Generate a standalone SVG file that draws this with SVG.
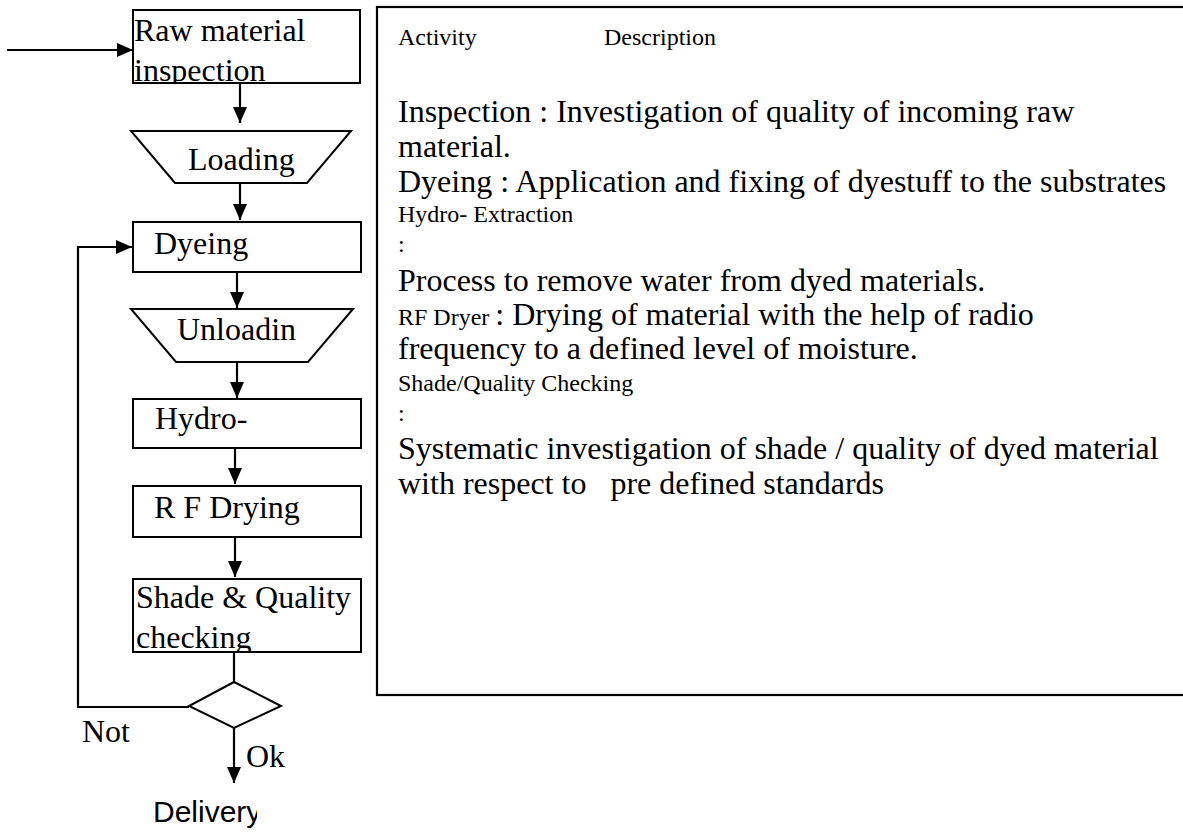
<svg xmlns="http://www.w3.org/2000/svg" width="1183" height="832" viewBox="0 0 1183 832">
<style>
.box{fill:#fff;stroke:#000;stroke-width:2}
.ln{fill:none;stroke:#000;stroke-width:2.2}
.t{font-family:"Liberation Serif","Times New Roman",serif;font-size:32px;fill:#000}
.s{font-family:"Liberation Serif","Times New Roman",serif;font-size:24px;fill:#000}
.sans{font-family:"Liberation Sans",Arial,sans-serif;font-size:30px;fill:#000}
</style>
<defs>
<marker id="ah" markerUnits="userSpaceOnUse" markerWidth="16" markerHeight="14" refX="16" refY="7" orient="auto">
<path d="M0,0 L16,7 L0,14 z" fill="#000"/>
</marker>
<clipPath id="cRaw"><rect x="133" y="10" width="228" height="73"/></clipPath>
<clipPath id="cShade"><rect x="133" y="579" width="228" height="73"/></clipPath>
<clipPath id="cDel"><rect x="140" y="790" width="117" height="42"/></clipPath>
</defs>
<rect width="1183" height="832" fill="#fff"/>

<g id="connectors">
<path class="ln" d="M7,50 H133" marker-end="url(#ah)"/>
<path class="ln" d="M240,84 V123" marker-end="url(#ah)"/>
<path class="ln" d="M240,183 V220" marker-end="url(#ah)"/>
<path class="ln" d="M237,272 V308" marker-end="url(#ah)"/>
<path class="ln" d="M237,362 V398" marker-end="url(#ah)"/>
<path class="ln" d="M235,448 V484" marker-end="url(#ah)"/>
<path class="ln" d="M235,537 V577" marker-end="url(#ah)"/>
<path class="ln" d="M234,652 V682"/>
<path class="ln" d="M189,707 H78 V247 H132" marker-end="url(#ah)"/>
<path class="ln" d="M234,728 V783" marker-end="url(#ah)"/>
</g>

<g id="raw">
<rect class="box" x="133" y="10" width="227" height="73"/>
<g clip-path="url(#cRaw)">
<text class="t" x="134" y="41">Raw material</text>
<text class="t" x="134" y="81">inspection</text>
</g>
</g>

<g id="loading">
<polygon class="box" points="131,131 351,131 307,183 175,183"/>
<text class="t" x="188" y="170">Loading</text>
</g>

<g id="dyeing">
<rect class="box" x="133" y="222" width="228" height="50"/>
<text class="t" x="154" y="254">Dyeing</text>
</g>

<g id="unloading">
<polygon class="box" points="131,309 353,309 308,362 176,362"/>
<text class="t" x="177" y="340">Unloadin</text>
</g>

<g id="hydro">
<rect class="box" x="133" y="399" width="228" height="49"/>
<text class="t" x="155" y="429">Hydro-</text>
</g>

<g id="rfdrying">
<rect class="box" x="133" y="486" width="228" height="51"/>
<text class="t" x="154" y="518">R F Drying</text>
</g>

<g id="shade">
<rect class="box" x="133" y="579" width="228" height="73"/>
<g clip-path="url(#cShade)">
<text class="t" x="136" y="608">Shade &amp; Quality</text>
<text class="t" x="136" y="648">checking</text>
</g>
</g>

<g id="decision">
<polygon class="box" points="234,682 281,706 234,728 189,706"/>
</g>

<g id="labels">
<text class="t" x="82" y="742">Not</text>
<text class="t" x="246" y="767">Ok</text>
</g>

<g id="delivery">
<text class="sans" x="153" y="822" clip-path="url(#cDel)">Delivery</text>
</g>

<g id="description">
<rect x="377" y="7" width="830" height="688" fill="none" stroke="#000" stroke-width="2.2"/>
<text class="s" x="398" y="45">Activity</text>
<text class="s" x="604" y="45">Description</text>
<text class="t" x="398" y="122">Inspection : Investigation of quality of incoming raw</text>
<text class="t" x="398" y="157">material.</text>
<text class="t" x="398" y="192">Dyeing : Application and fixing of dyestuff to the substrates</text>
<text class="s" x="398" y="222">Hydro- Extraction</text>
<text class="s" x="398" y="252">:</text>
<text class="t" x="398" y="291">Process to remove water from dyed materials.</text>
<text x="398" y="325"><tspan class="s">RF Dryer </tspan><tspan class="t"> : Drying of material with the help of radio</tspan></text>
<text class="t" x="398" y="359">frequency to a defined level of moisture.</text>
<text class="s" x="398" y="391">Shade/Quality Checking</text>
<text class="s" x="398" y="421">:</text>
<text class="t" x="398" y="459">Systematic investigation of shade / quality of dyed material</text>
<text class="t" x="398" y="494" xml:space="preserve">with respect to   pre defined standards</text>
</g>
</svg>
